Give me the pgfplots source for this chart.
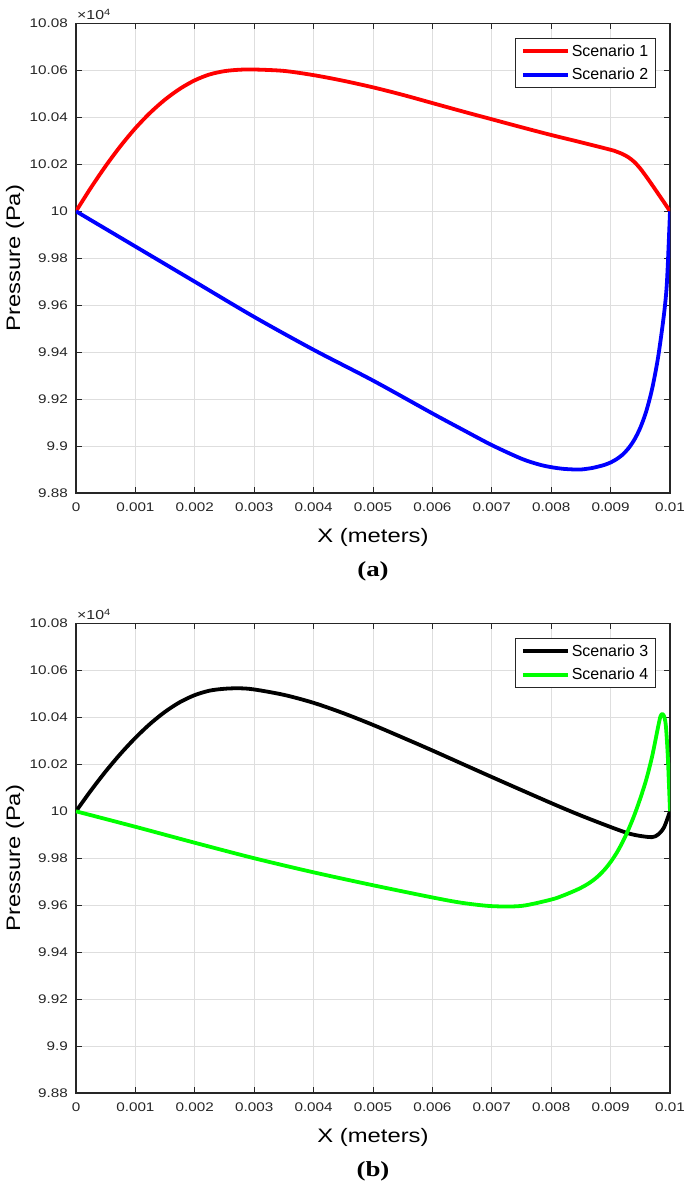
\documentclass[border=0pt]{standalone}
\usepackage{fontspec}
\setmainfont{Liberation Sans}
\newfontfamily\wide{Liberation Sans}[FakeStretch=1.22]
\newfontfamily\tnrw{Liberation Serif}[FakeStretch=1.25]
\usepackage{pgfplots}
\pgfplotsset{compat=1.18}
\definecolor{axgray}{HTML}{262626}
\definecolor{gridgray}{HTML}{DEDEDE}

\pgfplotsset{
  mlab/.style={
    scale only axis, width=594pt, height=469.5pt, anchor=south west,
    xmin=0, xmax=0.01, ymin=9.88, ymax=10.08,
    scaled x ticks=false, scaled y ticks=false,
    xtick={0,0.001,0.002,0.003,0.004,0.005,0.006,0.007,0.008,0.009,0.01},
    xticklabels={0,0.001,0.002,0.003,0.004,0.005,0.006,0.007,0.008,0.009,0.01},
    ytick={9.88,9.9,9.92,9.94,9.96,9.98,10,10.02,10.04,10.06,10.08},
    yticklabels={9.88,9.9,9.92,9.94,9.96,9.98,10,10.02,10.04,10.06,10.08},
    tick label style={font=\wide\fontsize{12.5}{15}\selectfont, text=axgray},
    xticklabel style={inner sep=0pt, anchor=north, yshift=-10pt},
    yticklabel style={inner sep=0pt, anchor=east, xshift=-8pt},
    major tick length=6pt,
    tick style={axgray, line width=1pt},
    axis line style={axgray, line width=1.2pt},
    grid=major, major grid style={gridgray, line width=1pt},
    xlabel={X (meters)}, ylabel={Pressure (Pa)},
    every axis x label/.style={at={(rel axis cs:0.5,0)}, yshift=-44pt, anchor=center,
      font=\wide\fontsize{19.5}{22}\selectfont},
    every axis y label/.style={at={(rel axis cs:0,0.5)}, xshift=-61pt, anchor=center, rotate=90,
      font=\wide\fontsize{19.5}{22}\selectfont},
    legend style={at={(0.976,0.969)}, anchor=north east, draw=axgray, line width=1pt,
      fill=white, font=\fontsize{16}{18}\selectfont, inner xsep=5pt, inner ysep=4pt,
      row sep=6.5pt, cells={anchor=west}},
    legend image code/.code={\draw[#1] (0pt,0pt) -- (45pt,0pt);},
    every axis plot/.append style={line width=3.8pt, line join=round, smooth, tension=0.5},
  }
}

\begin{document}
\begin{tikzpicture}
\path[use as bounding box] (0,0) rectangle (685pt,1183pt);

% ---- panel (a)
\begin{axis}[mlab, at={(76pt,690pt)}]
\addplot[color={rgb,1:red,1;green,0;blue,0}] coordinates {
(0,10.000)(0.00025,10.0100)(0.0005,10.0193)(0.00075,10.0278)(0.001,10.0354)
(0.00125,10.0420)(0.0015,10.0476)(0.00175,10.0522)(0.002,10.0558)(0.00225,10.0583)
(0.0025,10.0597)(0.00275,10.0603)(0.003,10.0604)(0.0035,10.0598)(0.004,10.0580)
(0.0045,10.0556)(0.005,10.0528)(0.0055,10.0496)(0.006,10.0461)(0.0065,10.0426)
(0.007,10.0392)(0.0075,10.0358)(0.008,10.0325)(0.0085,10.0294)(0.009,10.0262)
(0.0091,10.0254)(0.0092,10.0244)(0.0093,10.0230)(0.0094,10.0210)(0.0095,10.0182)
(0.0096,10.0148)(0.0097,10.0112)(0.0098,10.0075)(0.0099,10.0038)(0.01,10.0000)};
\addplot[color={rgb,1:red,0;green,0;blue,1}] coordinates {
(0,10.000)(0.001,9.985)(0.002,9.970)(0.003,9.955)(0.004,9.941)(0.005,9.9279)
(0.006,9.9139)(0.0065,9.9071)(0.007,9.9004)(0.0075,9.8946)(0.0078,9.8921)
(0.008,9.8910)(0.0082,9.8903)(0.0084,9.8900)(0.0085,9.8900)(0.0086,9.8903)
(0.0087,9.8907)(0.0088,9.8913)(0.0089,9.8920)(0.009,9.8930)(0.0091,9.8944)
(0.0092,9.8963)(0.0093,9.8990)(0.0094,9.9027)(0.0095,9.9078)(0.0096,9.9148)
(0.0097,9.9245)(0.0098,9.9379)(0.0099,9.9564)(0.00995,9.9705)(0.01,10.000)};
\legend{Scenario 1,Scenario 2}
\end{axis}
\node[anchor=base west, inner sep=0pt, font=\wide\fontsize{13}{15}\selectfont, text=axgray]
  at (77pt,1163.5pt) {×10\textsuperscript{4}};
\node[font=\tnrw\bfseries\fontsize{21.5}{24}\selectfont] at (373pt,612pt) {(a)};

% ---- panel (b)
\begin{axis}[mlab, at={(76pt,90pt)}]
\addplot[color=black] coordinates {
(0,10.000)(0.00025,10.0088)(0.0005,10.0170)(0.00075,10.0245)(0.001,10.0313)
(0.00125,10.0373)(0.0015,10.0424)(0.00175,10.0465)(0.002,10.0495)(0.00225,10.0514)
(0.0025,10.0522)(0.00275,10.0524)(0.003,10.0519)(0.0035,10.0496)(0.004,10.0462)
(0.0045,10.0418)(0.005,10.0368)(0.0055,10.0314)(0.006,10.0259)(0.007,10.0146)
(0.008,10.0035)(0.0085,9.9982)(0.009,9.9933)(0.0093,9.9906)(0.0095,9.9895)
(0.0097,9.9890)(0.0098,9.9901)(0.0099,9.9932)(0.01,10.000)};
\addplot[color={rgb,1:red,0;green,1;blue,0}] coordinates {
(0,10.000)(0.001,9.9934)(0.002,9.9866)(0.003,9.9800)(0.004,9.9740)(0.005,9.9685)
(0.006,9.9633)(0.0065,9.9610)(0.007,9.9596)(0.0075,9.9597)(0.008,9.9624)
(0.0082,9.9641)(0.0084,9.9662)(0.0085,9.9674)(0.0086,9.9688)(0.0087,9.9705)
(0.0088,9.9726)(0.0089,9.9752)(0.009,9.9784)(0.0091,9.9822)(0.0092,9.9868)
(0.0093,9.9922)(0.0094,9.9984)(0.0095,10.0055)(0.0096,10.0135)(0.0097,10.0235)
(0.0098,10.0360)(0.00984,10.0405)(0.00987,10.0414)(0.0099,10.0405)(0.00993,10.0365)
(0.00996,10.0250)(0.00998,10.0130)(0.01,10.000)};
\legend{Scenario 3,Scenario 4}
\end{axis}
\node[anchor=base west, inner sep=0pt, font=\wide\fontsize{13}{15}\selectfont, text=axgray]
  at (77pt,563.5pt) {×10\textsuperscript{4}};
\node[font=\tnrw\bfseries\fontsize{21.5}{24}\selectfont] at (373pt,12pt) {(b)};
\end{tikzpicture}
\end{document}
